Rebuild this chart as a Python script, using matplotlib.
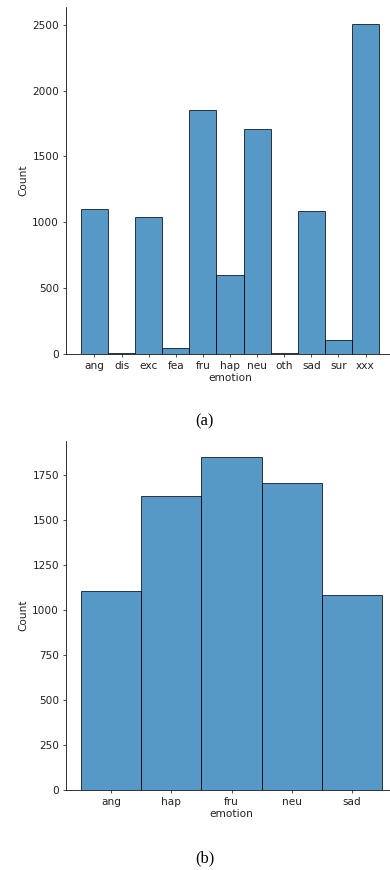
import matplotlib
matplotlib.use("Agg")
import matplotlib.pyplot as plt

# Data
emotions_all = ["ang", "dis", "exc", "fea", "fru", "hap", "neu", "oth", "sad", "sur", "xxx"]
counts_all = [1103, 2, 1041, 40, 1849, 595, 1708, 3, 1084, 107, 2507]

emotions_sel = ["ang", "hap", "fru", "neu", "sad"]
counts_sel = [1103, 1636, 1849, 1708, 1084]

captions = ["(a)", "(b)"]

W, H, DPI = 390, 870, 70
plt.rcParams["font.size"] = 11
fig = plt.figure(figsize=(W / DPI, H / DPI), dpi=DPI)

bar_color = "#1f77b4"

def draw(ax, cats, vals):
    ax.bar(cats, vals, width=1.0, color=bar_color, alpha=0.75,
           edgecolor="black", linewidth=1.0)
    ax.spines["top"].set_visible(False)
    ax.spines["right"].set_visible(False)
    ax.tick_params(colors="#222222", labelcolor="#222222", labelsize=10.8)
    ax.set_xlabel("emotion", color="#222222", fontsize=10.8, labelpad=2.5)
    ax.set_ylabel("Count", color="#222222", fontsize=10.8)

# top axes: left 66px, bottom 353.7px, top 7.3px, right ~394px
ax1 = fig.add_axes([66 / W, 1 - 353.7 / H, (394 - 66) / W, (353.7 - 7.3) / H])
draw(ax1, emotions_all, counts_all)

# bottom axes: left 66px, bottom 790px, top 440.6px, right ~397px
ax2 = fig.add_axes([66 / W, 1 - 790 / H, (397 - 66) / W, (790 - 440.6) / H])
draw(ax2, emotions_sel, counts_sel)

fig.text(204 / W, 1 - 421.5 / H, captions[0], ha="center", va="center",
         family="Liberation Serif", fontsize=17)
fig.text(205 / W, 1 - 858 / H, captions[1], ha="center", va="center",
         family="Liberation Serif", fontsize=17)

fig.savefig("out.png", dpi=DPI)
